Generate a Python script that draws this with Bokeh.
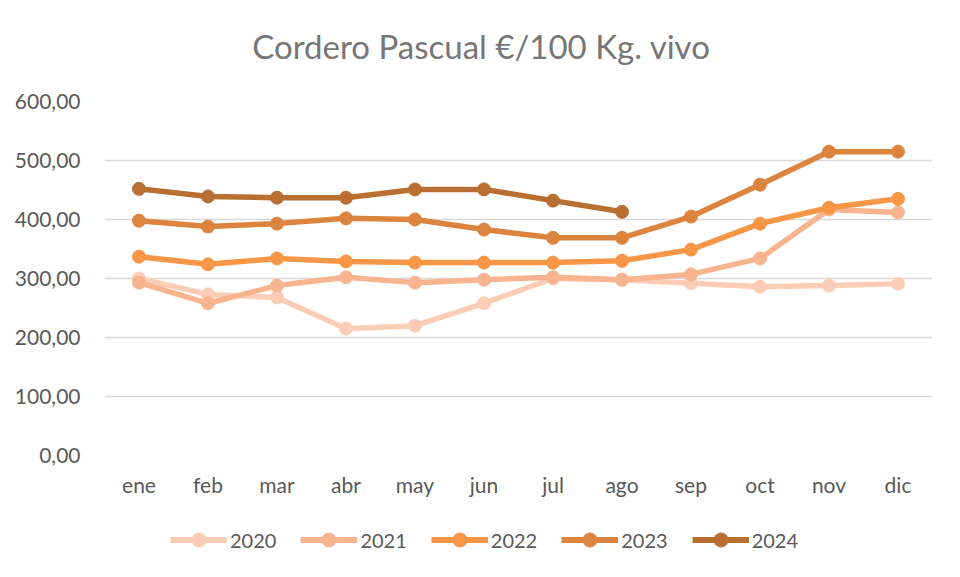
from bokeh.plotting import figure
from bokeh.layouts import column
from bokeh.models import Legend, LegendItem, Label, FixedTicker, FactorRange, Range1d
from bokeh.embed import file_html
from bokeh.resources import INLINE

months = ["ene", "feb", "mar", "abr", "may", "jun", "jul", "ago", "sep", "oct", "nov", "dic"]
years = ["2020", "2021", "2022", "2023", "2024"]
v2020 = [300, 273, 268, 215, 220, 258, 300, 298, 292, 286, 288, 291]
v2021 = [293, 258, 288, 302, 293, 298, 302, 298, 307, 334, 417, 412]
v2022 = [337, 324, 334, 329, 327, 327, 327, 330, 349, 393, 420, 435]
v2023 = [398, 388, 393, 402, 400, 383, 369, 369, 405, 459, 515, 515]
v2024 = [452, 439, 437, 437, 451, 451, 432, 413]
y_ticks = [0, 100, 200, 300, 400, 500, 600]
y_tick_labels = ["0,00", "100,00", "200,00", "300,00", "400,00", "500,00", "600,00"]
title_text = "Cordero Pascual €/100 Kg. vivo"

series = [v2020, v2021, v2022, v2023, v2024]
colors = ["#FBCDB6", "#F8B48E", "#F79646", "#DC843E", "#B96F31"]
FONT = "Lato"
GREY = "#595959"


def strip(height):
    f = figure(width=944, height=height, output_backend="svg", toolbar_location=None,
               x_range=Range1d(0, 1), y_range=Range1d(0, 1), min_border=0)
    f.axis.visible = False
    f.grid.grid_line_color = None
    f.outline_line_color = None
    return f


# title strip
tf = strip(70)
tf.add_layout(Label(x=377, y=25, x_units="screen", y_units="screen", text=title_text,
                    text_align="center", text_baseline="middle", text_font=FONT,
                    text_font_size="33px", text_color="#767676"))

# main chart
p = figure(width=944, height=450, output_backend="svg", toolbar_location=None,
           x_range=FactorRange(*months, range_padding=0), y_range=Range1d(0, 600),
           min_border_left=104, min_border_right=12, min_border_top=31, min_border_bottom=65)
p.outline_line_color = None
p.border_fill_color = "white"

p.xgrid.grid_line_color = None
p.ygrid.grid_line_color = "#D9D9D9"
p.ygrid.grid_line_width = 1.5

p.yaxis.ticker = FixedTicker(ticks=y_ticks)
p.yaxis.major_label_overrides = {t: l for t, l in zip(y_ticks, y_tick_labels)}
for ax in (p.xaxis, p.yaxis):
    ax.axis_line_color = None
    ax.major_tick_line_color = None
    ax.minor_tick_line_color = None
    ax.major_label_text_font = FONT
    ax.major_label_text_font_size = "21px"
    ax.major_label_text_color = GREY
p.yaxis.major_label_standoff = 18
p.xaxis.major_label_standoff = 10

for yr, vals, c in zip(years, series, colors):
    xs = months[:len(vals)]
    p.line(xs, vals, line_color=c, line_width=5.5)
    p.scatter(xs, vals, size=13, fill_color=c, line_color=c)

# legend strip (its proxy glyphs sit outside the visible range)
lg = strip(41)
items = []
for yr, c in zip(years, colors):
    r1 = lg.line([-10, -9], [-10, -9], line_color=c, line_width=6)
    r2 = lg.scatter([-10], [-10], size=14, fill_color=c, line_color=c)
    items.append(LegendItem(label=yr, renderers=[r1, r2]))
legend = Legend(items=items, orientation="horizontal", location=(66, 4),
                label_text_font=FONT, label_text_font_size="20px", label_text_color=GREY,
                glyph_width=57, glyph_height=35, spacing=24, label_standoff=3,
                margin=0, padding=0, border_line_color=None, background_fill_alpha=0)
lg.add_layout(legend, "center")

layout = column(tf, p, lg, spacing=0)
open("out.html", "w").write(file_html(layout, INLINE))
